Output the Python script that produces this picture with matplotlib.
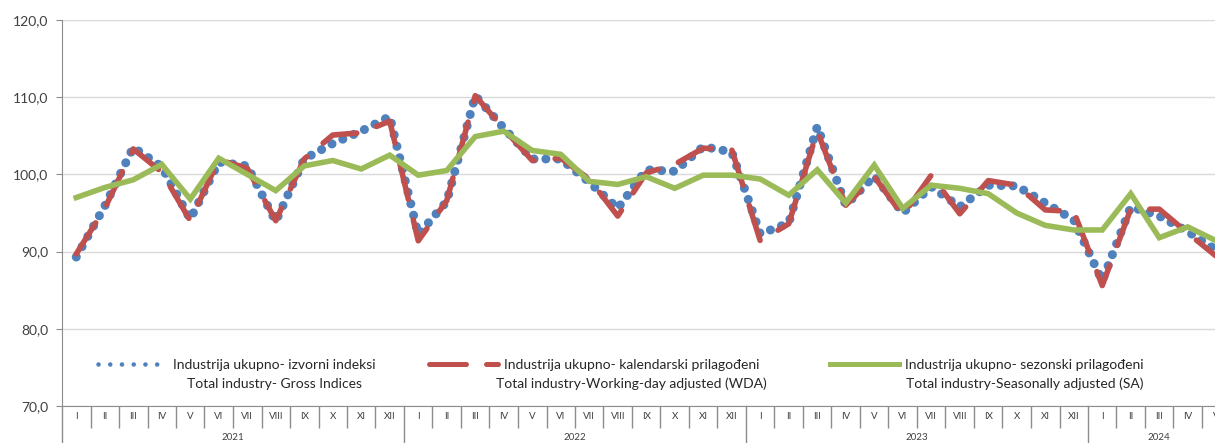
import matplotlib
matplotlib.use('Agg')
import matplotlib.pyplot as plt
from matplotlib.lines import Line2D
from matplotlib.ticker import FuncFormatter
import matplotlib.transforms as mtransforms
import numpy as np

plt.rcParams['font.family'] = ['Lato', 'DejaVu Sans']

# months on the axis: 2021-2023 full years, 2024 Jan-May
roman = ['I', 'II', 'III', 'IV', 'V', 'VI', 'VII', 'VIII', 'IX', 'X', 'XI', 'XII']
years = ['2021', '2022', '2023', '2024']
months_per_year = [12, 12, 12, 5]
months = [m for n in months_per_year for m in roman[:n]]

# Industrija ukupno - izvorni indeksi (gross)
gross = [89.3, 95.9, 103.5, 101.0, 94.2, 101.6, 101.1, 93.9, 102.0, 104.0, 105.6, 107.5,
         92.2, 96.5, 110.2, 106.0, 102.0, 102.0, 99.0, 95.6, 100.6, 100.4, 103.6, 102.9,
         92.3, 93.7, 106.2, 96.0, 99.8, 95.0, 98.4, 95.8, 98.6, 98.5, 96.3, 94.1,
         86.2, 95.8, 94.6, 92.6, 90.2]
# kalendarski prilagodeni (WDA)
wda = [89.7, 95.6, 103.3, 100.3, 94.0, 101.9, 100.8, 94.0, 102.0, 105.1, 105.4, 106.9,
       91.4, 96.6, 110.2, 105.9, 101.8, 102.1, 99.4, 94.6, 100.2, 101.3, 103.4, 103.2,
       91.4, 93.6, 105.6, 96.0, 99.7, 94.7, 99.9, 94.9, 99.2, 98.6, 95.4, 95.2,
       85.6, 95.5, 95.5, 92.4, 89.4]
# sezonski prilagodeni (SA)
sa = [97.0, 98.3, 99.3, 101.3, 96.8, 102.1, 100.0, 97.9, 101.1, 101.8, 100.7, 102.5,
      99.9, 100.5, 104.9, 105.6, 103.1, 102.6, 99.1, 98.7, 99.7, 98.2, 99.9, 99.9,
      99.4, 97.3, 100.6, 96.3, 101.2, 95.6, 98.6, 98.2, 97.5, 95.0, 93.4, 92.8,
      92.8, 97.5, 91.8, 93.2, 91.4]

labels = [
    ('Industrija ukupno- izvorni indeksi', 'Total industry- Gross Indices'),
    ('Industrija ukupno- kalendarski prilagođeni', 'Total industry-Working-day adjusted (WDA)'),
    ('Industrija ukupno- sezonski prilagođeni', 'Total industry-Seasonally adjusted (SA)'),
]

BLUE, RED, GREEN = '#4F81BD', '#C0504D', '#9BBB59'
GRID, AXC, TXT = '#D9D9D9', '#8C8C8C', '#404040'

W, H = 1215, 443
fig = plt.figure(figsize=(W / 100, H / 100), dpi=100)
ax = fig.add_axes([62 / W, 37 / H, (1230.5 - 62) / W, 386 / H])

x = np.arange(len(months))
ax.plot(x, gross, color=BLUE, lw=6.5, linestyle=(0, (0.01, 1.3)),
        dash_capstyle='round', zorder=3)
ax.plot(x, wda, color=RED, lw=4.0, linestyle=(0, (6.6, 3.8)),
        dash_capstyle='round', zorder=4)
ax.plot(x, sa, color=GREEN, lw=4.0, solid_joinstyle='miter', zorder=5)

ax.set_ylim(70, 120)
ax.set_yticks(np.arange(70, 121, 10))
ax.yaxis.set_major_formatter(FuncFormatter(lambda v, p: f'{v:.1f}'.replace('.', ',')))
ax.grid(axis='y', color=GRID, lw=1)
ax.set_axisbelow(True)
ax.tick_params(axis='y', length=4, color=AXC, labelsize=10, labelcolor=TXT, pad=6)

ax.set_xlim(-0.5, len(months) - 0.5)
ax.set_xticks(x)
ax.set_xticklabels(months)
ax.tick_params(axis='x', which='major', length=0, labelsize=7, labelcolor=TXT, pad=4)

starts = np.cumsum([0] + months_per_year)
inner = [b - 0.5 for b in range(1, len(months)) if b not in starts]
ax.set_xticks(inner, minor=True)
ax.tick_params(axis='x', which='minor', length=16, color=AXC, width=1)

for s in ['top', 'right']:
    ax.spines[s].set_visible(False)
for s in ['left', 'bottom']:
    ax.spines[s].set_color(AXC)

trans = mtransforms.blended_transform_factory(ax.transData, ax.transAxes)
for s in starts[:-1]:
    ax.plot([s - 0.5, s - 0.5], [0, -0.11], transform=trans, color=AXC, lw=1,
            clip_on=False)
for yr, s, n in zip(years, starts[:-1], months_per_year):
    ax.text(s + (n - 1) / 2, -0.081, yr, transform=trans, ha='center', va='center',
            fontsize=7, color=TXT)

# legend: three separate entries, two-line labels
handles = [
    Line2D([], [], color=BLUE, lw=3.3, linestyle=(0, (0.01, 2.55)), dash_capstyle='round'),
    Line2D([], [], color=RED, lw=3.6, linestyle=(0, (7.4, 4.0)), dash_capstyle='round'),
    Line2D([], [], color=GREEN, lw=3.6),
]
lefts = [(98 - 62) / 1168.5, (429 - 62) / 1168.5, (830 - 62) / 1168.5]
legs = []
for h, (l1, l2), xl in zip(handles, labels, lefts):
    leg = ax.legend([h], [l1], loc='center left', bbox_to_anchor=(xl, 0.106),
                    bbox_transform=ax.transAxes, frameon=False, fontsize=10,
                    handlelength=5.0, handletextpad=0.4, borderpad=0, borderaxespad=0)
    leg.get_texts()[0].set_color('#262626')
    ax.add_artist(leg)
    legs.append((leg, l2))
ax.legend_ = None

fig.canvas.draw()
for leg, l2 in legs:
    bb = leg.get_texts()[0].get_window_extent()
    cx = (bb.x0 + bb.x1) / 2
    cy = (bb.y0 + bb.y1) / 2
    fig.text(cx / W, (cy - 19) / H, l2, ha='center', va='center', fontsize=10,
             color='#262626')

fig.savefig('out.png', dpi=100)
